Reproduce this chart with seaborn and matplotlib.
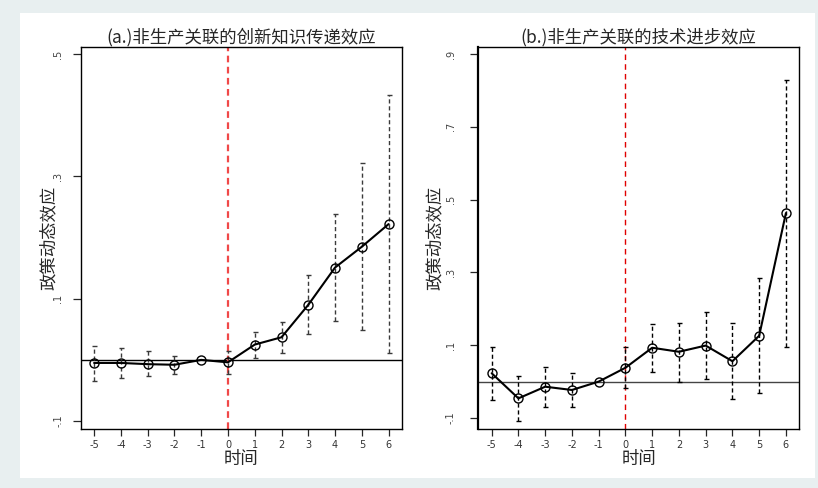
import numpy as np
import pandas as pd
import matplotlib
matplotlib.use("Agg")
import matplotlib.pyplot as plt
from matplotlib.patches import Rectangle
import seaborn as sns

# ---------------- data ----------------
periods = [-5, -4, -3, -2, -1, 0, 1, 2, 3, 4, 5, 6]
xtick_labels = ["-5", "-4", "-3", "-2", "-1", "0", "1", "2", "3", "4", "5", "6"]

# panel (a)
coef_a = [-0.005, -0.005, -0.007, -0.008, 0.0, -0.004, 0.025, 0.037, 0.090, 0.151, 0.185, 0.222]
low_a = [-0.034, -0.030, -0.027, -0.023, None, -0.023, 0.003, 0.012, 0.042, 0.064, 0.049, 0.011]
high_a = [0.022, 0.019, 0.014, 0.007, None, 0.015, 0.046, 0.062, 0.139, 0.239, 0.322, 0.433]
yticks_a = [-0.1, 0.1, 0.3, 0.5]
yticklabels_a = ["-.1", ".1", ".3", ".5"]

# panel (b)
coef_b = [0.023, -0.046, -0.014, -0.023, 0.0, 0.038, 0.093, 0.082, 0.099, 0.056, 0.126, 0.463]
low_b = [-0.050, -0.108, -0.069, -0.070, None, -0.018, 0.027, 0.000, 0.007, -0.048, -0.032, 0.096]
high_b = [0.096, 0.016, 0.039, 0.023, None, 0.094, 0.158, 0.162, 0.192, 0.160, 0.284, 0.829]
yticks_b = [-0.1, 0.1, 0.3, 0.5, 0.7, 0.9]
yticklabels_b = ["-.1", ".1", ".3", ".5", ".7", ".9"]

title_a = "(a.)非生产关联的创新知识传递效应"
title_b = "(b.)非生产关联的技术进步效应"
xlabel = "时间"
ylabel = "政策动态效应"

# ---------------- style ----------------
sns.set_style("white")
plt.rcParams["font.family"] = ["Noto Sans CJK SC", "DejaVu Sans"]
plt.rcParams["axes.unicode_minus"] = False

fig = plt.figure(figsize=(8.18, 4.88), dpi=100)
fig.patch.set_facecolor("#e8eff0")
W, H = 818, 488
fig.patches.append(Rectangle((20 / W, 1 - 478 / H), (815 - 20) / W, (478 - 13) / H,
                             transform=fig.transFigure, facecolor="white",
                             edgecolor="none", zorder=-5))

ax_a = fig.add_axes([80.7 / W, 1 - 429 / H, (402 - 80.7) / W, (429 - 46.7) / H])
ax_b = fig.add_axes([478.3 / W, 1 - 429.3 / H, (799.3 - 478.3) / W, (429.3 - 46.7) / H])


def draw(ax, coef, low, high, yticks, yticklabels, ylim, title, vcolor, vlw, vdash,
         bar_color, ypad, ylab_pad, hcolor):
    df = pd.DataFrame({"t": periods, "b": coef})
    ax.set_facecolor("white")
    ax.axhline(0, color=hcolor, lw=1.0, zorder=1)
    ax.axvline(0, color=vcolor, lw=vlw, linestyle=(0, vdash), zorder=2)
    # confidence intervals
    ci = pd.DataFrame({"t": periods, "b": coef, "lo": low, "hi": high}).dropna()
    err = np.vstack([ci["b"] - ci["lo"], ci["hi"] - ci["b"]])
    _, caps, bars = ax.errorbar(ci["t"], ci["b"], yerr=err, fmt="none",
                                ecolor=bar_color, elinewidth=1.0, capsize=1.8,
                                capthick=1.0, zorder=3)
    for b in bars:
        b.set_linestyle((0, (3, 2)))
    sns.lineplot(data=df, x="t", y="b", ax=ax, color="black", lw=1.5,
                 marker="o", markersize=6.5, markerfacecolor="none",
                 markeredgecolor="black", markeredgewidth=1.0, zorder=4)
    ax.set_xlim(-5.5, 6.5)
    ax.set_ylim(*ylim)
    ax.set_xticks(periods)
    ax.set_xticklabels(xtick_labels, fontsize=7, color="#333333", family="DejaVu Sans")
    ax.set_yticks(yticks)
    ax.set_yticklabels(yticklabels, fontsize=7, color="#444444", rotation=90,
                       va="center", family="DejaVu Sans")
    ax.tick_params(axis="x", length=5, width=0.9, pad=3, bottom=True, direction="out")
    ax.tick_params(axis="y", length=6, width=0.9, pad=ypad, left=True, direction="out")
    for s in ax.spines.values():
        s.set_visible(True)
        s.set_color("black")
        s.set_linewidth(1.0)
    ax.set_title(title, fontsize=12.5, pad=3, fontweight="medium")
    ax.set_xlabel(xlabel, fontsize=12.5, labelpad=0, fontweight="medium")
    ax.set_ylabel(ylabel, fontsize=12.5, labelpad=ylab_pad, fontweight="medium")


draw(ax_a, coef_a, low_a, high_a, yticks_a, yticklabels_a, (-0.113, 0.512), title_a,
     "#f04848", 1.6, (3, 2), "#3a3a3a", 6.4, -3, "black")
draw(ax_b, coef_b, low_b, high_b, yticks_b, yticklabels_b, (-0.131, 0.920), title_b,
     "#e00000", 1.0, (4, 3), "black", 10.4, 1.5, "#444444")
ax_b.spines["left"].set_linewidth(1.6)

fig.savefig("out.png", dpi=100, facecolor=fig.get_facecolor())
